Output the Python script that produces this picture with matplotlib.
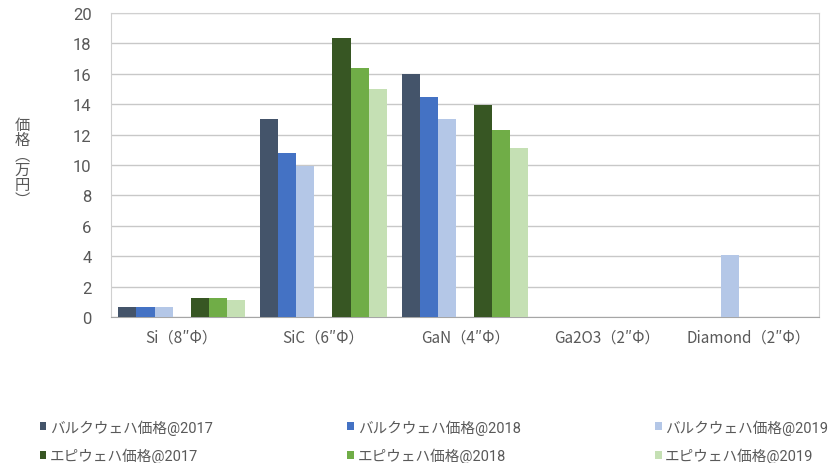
import numpy as np
import matplotlib
matplotlib.use('Agg')
import matplotlib.pyplot as plt

plt.rcParams['font.family'] = ['Roboto', 'Noto Sans CJK JP', 'DejaVu Sans']

# data (万円)
categories = ['Si（8″Φ）', 'SiC（6″Φ）', 'GaN（4″Φ）', 'Ga2O3（2″Φ）', 'Diamond（2″Φ）']
bulk_2017 = [0.65, 13.0, 16.0, 0, 0]
bulk_2018 = [0.65, 10.8, 14.5, 0, 0]
bulk_2019 = [0.65, 9.95, 13.05, 0, 4.1]
epi_2017 = [1.25, 18.35, 13.95, 0, 0]
epi_2018 = [1.25, 16.4, 12.3, 0, 0]
epi_2019 = [1.1, 15.0, 11.1, 0, 0]

series = [
    ('バルクウェハ価格@2017', bulk_2017, '#44546A', -3),
    ('バルクウェハ価格@2018', bulk_2018, '#4472C4', -2),
    ('バルクウェハ価格@2019', bulk_2019, '#B4C7E7', -1),
    ('エピウェハ価格@2017', epi_2017, '#375623', 1),
    ('エピウェハ価格@2018', epi_2018, '#70AD47', 2),
    ('エピウェハ価格@2019', epi_2019, '#C5E0B4', 3),
]

text_col = '#595959'
grid_col = '#C8C8C8'

fig = plt.figure(figsize=(8.37, 4.64), dpi=100)
ax = fig.add_axes([111/837, 146/464, 708/837, 304/464])

x = np.arange(len(categories))
w = 0.128
bars = {}
for label, vals, col, slot in series:
    vals = np.array(vals, dtype=float)
    mask = vals > 0
    b = ax.bar(x[mask] + slot * w, vals[mask], w, color=col, label=label, zorder=3)
    bars[label] = b

ax.set_xlim(-0.5, len(categories) - 0.5)
ax.set_ylim(0, 20)
ax.set_yticks(np.arange(0, 21, 2))
ax.yaxis.grid(True, color=grid_col, linewidth=1.0, zorder=0)
ax.set_xticks(x)
ax.set_xticklabels(categories, family=['Noto Sans CJK JP'])
ax.tick_params(axis='both', length=0, colors=text_col, labelsize=12)
ax.tick_params(axis='y', pad=14)
ax.tick_params(axis='x', pad=8, labelsize=11)
for s in ['left', 'top', 'right']:
    ax.spines[s].set_color('#D0D0D0')
ax.spines['bottom'].set_color('#A6A6A6')

fig.text(22/837, 1 - 163/464, '価\n格\n︵\n万\n円\n︶', ha='center', va='center',
         fontsize=11, color=text_col, linespacing=0.85, family=['Noto Sans CJK JP'])

order = [0, 3, 1, 4, 2, 5]
handles = [bars[series[i][0]] for i in order]
labels = [series[i][0] for i in order]
fig.legend(handles, labels, loc='lower left', ncol=3, mode='expand',
           bbox_to_anchor=(34/837, 1 - 470/464, 800/837, 70/464),
           frameon=False, fontsize=10.5, labelcolor=text_col,
           handlelength=0.45, handleheight=0.45, handletextpad=0.25,
           labelspacing=0.9, borderaxespad=0)

fig.savefig('out.png', dpi=100)
